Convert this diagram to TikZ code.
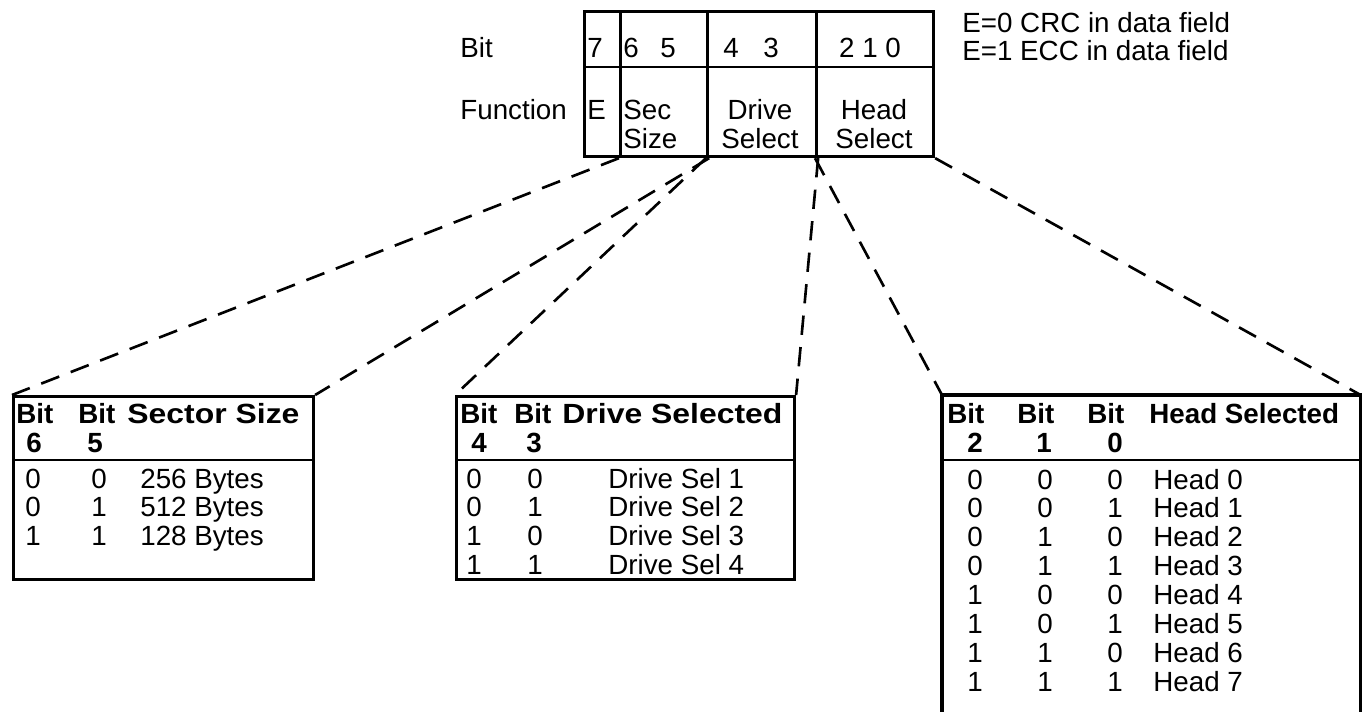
\documentclass[tikz,border=0pt]{standalone}
\usepackage{fontspec}
\setmainfont{Liberation Sans}
\newcommand{\txtsize}{\fontsize{15.8}{18}\selectfont}
\begin{document}
\begin{tikzpicture}[x=0.02cm,y=-0.02cm,font=\txtsize,
  txt/.style={anchor=base west,inner sep=0pt},
  hdr/.style={txt,font=\txtsize\bfseries},
  widehdr/.style={hdr,xscale=1.15,transform shape},
  dig/.style={anchor=base,inner sep=0pt},
  hdig/.style={dig,font=\txtsize\bfseries},
  field/.style={draw,line width=1.8pt,anchor=north west,inner sep=0pt,minimum height=2.9cm},
  tab/.style={draw,line width=1.8pt,anchor=north west,inner sep=0pt,minimum height=3.66cm},
  sep/.style={line width=0.8pt},
  zoomline/.style={line width=1.5pt,dash pattern=on 11pt off 7pt}]
\useasboundingbox (0,0) rectangle (1367,711);

% register byte
\node (fE) at (583,10) [field, minimum width=0.72cm]{};
\node (fSec) at (619,10) [field, minimum width=1.74cm]{};
\node (fDrv) at (706,10) [field, minimum width=2.18cm]{};
\node (fHead) at (815,10) [field, minimum width=2.34cm]{};
\draw [sep] (fE.west |- 0,67) -- (fHead.east |- 0,67);

\node [txt] (lBit) at (460,57) {Bit};
\node [txt] (lFun) at (460,119) {Function};

\node [txt] at (587,57) {7};
\node [txt] at (623,57) {6};
\node [txt] at (660,57) {5};
\node [txt] at (723,57) {4};
\node [txt] at (763,57) {3};
\node [dig] at (870,57) {2 1 0};

\node [txt] at (587,119) {E};
\node [txt] at (623,119) {Sec};
\node [txt] at (623,148) {Size};
\node [dig] at (760,119) {Drive};
\node [dig] at (760,148) {Select};
\node [dig] at (874,119) {Head};
\node [dig] at (874,148) {Select};

\node [txt] (nE0) at (962,32) {E=0 CRC in data field};
\node [txt] (nE1) at (962,60) {E=1 ECC in data field};

% tables
\node (tSec) at (12,395) [tab, minimum width=6cm]{};
\node (tDrv) at (455,395) [tab, minimum width=6.76cm]{};
\node (tHead) at (942,395) [anchor=north west, inner sep=0pt, minimum width=8.36cm, minimum height=6.4cm]{};
\draw [line width=1.8pt] (tHead.south west) |- (tHead.north east) -- (tHead.south east);

\draw [sep] (tSec.west |- 0,460) -- (tSec.east |- 0,460);
\draw [sep] (tDrv.west |- 0,460) -- (tDrv.east |- 0,460);
\draw [sep] (tHead.west |- 0,460) -- (tHead.east |- 0,460);

\draw [zoomline] (fSec.south west) -- (tSec.north west);
\draw [zoomline] (fSec.south east) -- (tSec.north east);
\draw [zoomline] (fDrv.south west) -- (tDrv.north west);
\draw [zoomline] (fDrv.south east) -- (tDrv.north east);
\draw [zoomline] (fHead.south west) -- (tHead.north west);
\draw [zoomline] (fHead.south east) -- (tHead.north east);

% sector size
\node [hdr] at (16,423) {Bit};
\node [hdr] at (78,423) {Bit};
\node [widehdr] at (127,423) {Sector Size};
\node [hdig] at (34,452) {6};
\node [hdig] at (95,452) {5};
\foreach \a/\b/\t [count=\i from 0] in {0/0/256 Bytes,0/1/512 Bytes,1/1/128 Bytes}{
  \node [dig] at (33,488+28.8*\i) {\a};
  \node [dig] at (99,488+28.8*\i) {\b};
  \node [txt] at (140,488+28.8*\i) {\t};
}

% drive select
\node [hdr] at (460,423) {Bit};
\node [hdr] at (514,423) {Bit};
\node [widehdr] at (562,423) {Drive Selected};
\node [hdig] at (479,452) {4};
\node [hdig] at (534,452) {3};
\foreach \a/\b [count=\i from 0] in {0/0,0/1,1/0,1/1}{
  \node [dig] at (474,488+28.8*\i) {\a};
  \node [dig] at (535,488+28.8*\i) {\b};
  \node [txt] at (608,488+28.8*\i) {Drive Sel \the\numexpr\i+1\relax};
}

% head select
\node [hdr] at (947,423) {Bit};
\node [hdr] at (1017,423) {Bit};
\node [hdr] at (1087,423) {Bit};
\node [hdr] at (1149,423) {Head Selected};
\node [hdig] at (975,452) {2};
\node [hdig] at (1044,452) {1};
\node [hdig] at (1115,452) {0};
\foreach \a/\b/\c [count=\i from 0] in {0/0/0,0/0/1,0/1/0,0/1/1,1/0/0,1/0/1,1/1/0,1/1/1}{
  \node [dig] at (975,489+28.9*\i) {\a};
  \node [dig] at (1045,489+28.9*\i) {\b};
  \node [dig] at (1115,489+28.9*\i) {\c};
  \node [txt] at (1153,489+28.9*\i) {Head \i};
}
\end{tikzpicture}
\end{document}
